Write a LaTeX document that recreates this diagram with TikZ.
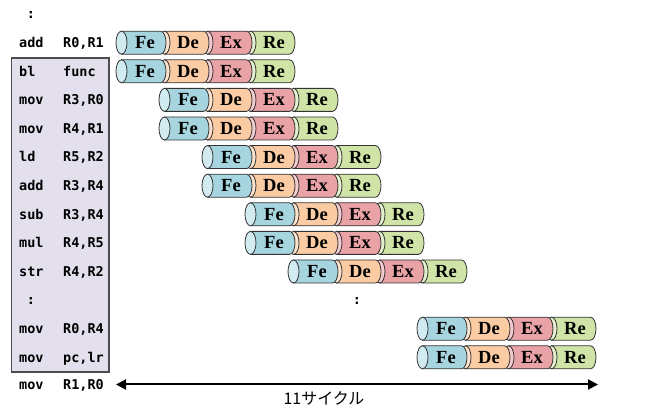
\documentclass[tikz,border=0pt]{standalone}
\usepackage{fontspec}
\setmonofont{DejaVu Sans Mono}
\newfontfamily\stagefont{Liberation Serif}
\newfontfamily\jpfont{Noto Sans CJK JP}
\usetikzlibrary{arrows.meta}
\definecolor{febody}{HTML}{A6D5DF}
\definecolor{feface}{HTML}{D2EBF1}
\definecolor{debody}{HTML}{FBCBA4}
\definecolor{deface}{HTML}{FDE3CE}
\definecolor{exbody}{HTML}{E9A2A6}
\definecolor{exface}{HTML}{F4CBCF}
\definecolor{rebody}{HTML}{CFE4A6}
\definecolor{reface}{HTML}{E5F1CE}
\definecolor{boxfill}{HTML}{E4DFEC}
\definecolor{cylline}{HTML}{333333}
\tikzset{
  cylstroke/.style={draw=cylline, line width=0.8pt},
  stagelabel/.style={inner sep=0pt, anchor=base, font=\stagefont\bfseries\fontsize{18.5}{19}\selectfont},
  instr/.style={inner sep=0pt, anchor=base west, font=\ttfamily\bfseries\fontsize{13.5}{14}\selectfont},
  dots/.style={inner sep=0pt, anchor=base, font=\ttfamily\bfseries\fontsize{13.5}{14}\selectfont},
  framebox/.style={draw=black!70, line width=1.2pt, fill=boxfill},
  cycarrow/.style={line width=2pt, {Triangle[length=10pt,width=10pt]}-{Triangle[length=10pt,width=10pt]}},
  jplabel/.style={inner sep=0pt, font=\jpfont\fontsize{16}{17}\selectfont}
}
\newcommand{\stagecyl}[6]{%
  \pgfmathsetmacro\cylx{#1}%
  \filldraw[cylstroke, fill=#3] (\cylx,#2+11.5) -- ++(39,0) arc[start angle=90,end angle=-90,x radius=5.5,y radius=11.5] -- (\cylx,#2-11.5) -- cycle;
  \filldraw[cylstroke, fill=#4] (\cylx,#2) ellipse[x radius=5.5,y radius=11.5];
  \node[stagelabel] (#6) at (\cylx+23.5,#2-6.1) {#5};
}
\newcommand{\piperow}[3]{%
  \pgfmathsetmacro\rowx{121.5+#1*43}%
  \stagecyl{\rowx+129}{#2}{rebody}{reface}{Re}{#3re}%
  \stagecyl{\rowx+86}{#2}{exbody}{exface}{Ex}{#3ex}%
  \stagecyl{\rowx+43}{#2}{debody}{deface}{De}{#3de}%
  \stagecyl{\rowx}{#2}{febody}{feface}{Fe}{#3fe}%
}
\newcommand{\instrrow}[4]{%
  \node[instr] (#4op) at (19,#1-4.9) {#2};
  \node[instr] (#4arg) at (63,#1-4.9) {#3};
}
\begin{document}
\begin{tikzpicture}[x=1pt,y=1pt]
\useasboundingbox (0,0) rectangle (651,409);
\draw[framebox] (11.5,37) rectangle (109,351);
\node[dots] (topdots) at (31,394.9-4.9) {:};
\instrrow{366.3}{add}{R0,R1}{r1}
\instrrow{337.7}{bl}{func}{r2}
\instrrow{309.1}{mov}{R3,R0}{r3}
\instrrow{280.5}{mov}{R4,R1}{r4}
\instrrow{251.9}{ld}{R5,R2}{r5}
\instrrow{223.3}{add}{R3,R4}{r6}
\instrrow{194.7}{sub}{R3,R4}{r7}
\instrrow{166.1}{mul}{R4,R5}{r8}
\instrrow{137.5}{str}{R4,R2}{r9}
\node[dots] (boxdots) at (31,108.9-4.9) {:};
\node[dots] (middots) at (357,108.9-4.9) {:};
\instrrow{80.3}{mov}{R0,R4}{r11}
\instrrow{51.7}{mov}{pc,lr}{r12}
\instrrow{24.5}{mov}{R1,R0}{r13}
\piperow{0}{366.3}{p1}
\piperow{0}{337.7}{p2}
\piperow{1}{309.1}{p3}
\piperow{1}{280.5}{p4}
\piperow{2}{251.9}{p5}
\piperow{2}{223.3}{p6}
\piperow{3}{194.7}{p7}
\piperow{3}{166.1}{p8}
\piperow{4}{137.5}{p9}
\piperow{7}{80.3}{p11}
\piperow{7}{51.7}{p12}
\coordinate (arrL) at (116,24.5);
\coordinate (arrR) at (598,24.5);
\draw[cycarrow] (arrL) -- (arrR);
\node[jplabel] (cyc) at (324,11) {11サイクル};
\end{tikzpicture}
\end{document}
